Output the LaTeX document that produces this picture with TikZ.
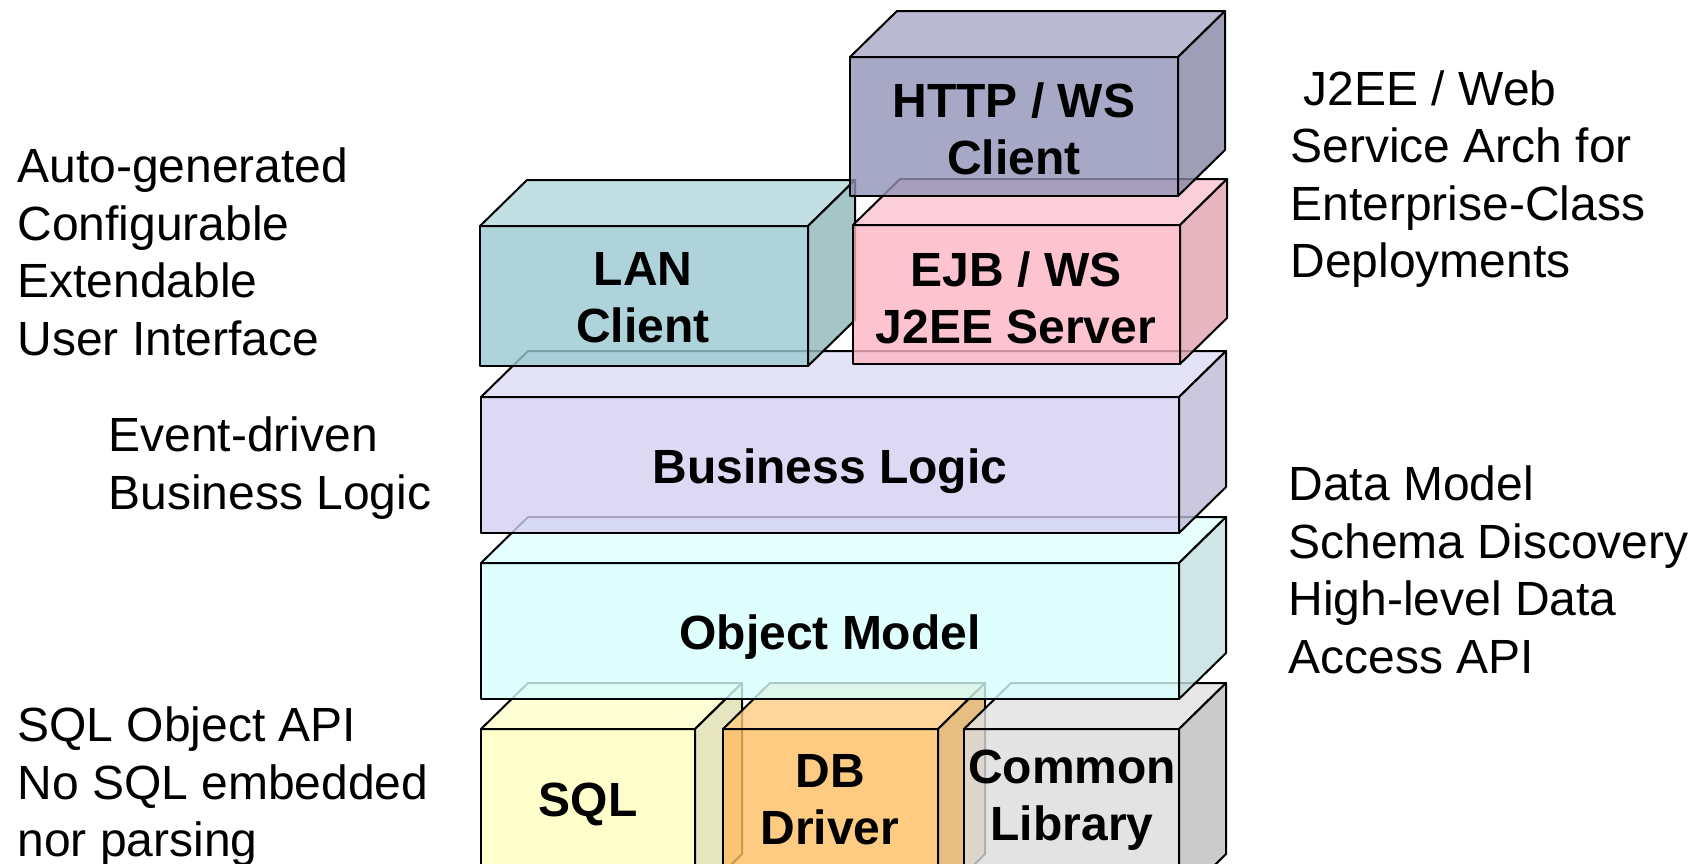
\documentclass[tikz,border=0pt]{standalone}
\usepackage{fontspec}
\setmainfont{Liberation Sans}
\definecolor{httpF}{RGB}{146,146,184}
\definecolor{httpT}{RGB}{168,168,199}
\definecolor{httpS}{RGB}{134,134,164}
\definecolor{lanF}{RGB}{154,201,209}
\definecolor{lanT}{RGB}{179,216,220}
\definecolor{lanS}{RGB}{144,183,186}
\definecolor{ejbF}{RGB}{253,181,196}
\definecolor{ejbT}{RGB}{251,196,209}
\definecolor{ejbS}{RGB}{224,163,175}
\definecolor{busF}{RGB}{213,208,243}
\definecolor{busT}{RGB}{221,219,244}
\definecolor{busS}{RGB}{191,186,214}
\definecolor{objF}{RGB}{216,255,255}
\definecolor{objT}{RGB}{224,255,255}
\definecolor{objS}{RGB}{195,224,224}
\definecolor{sqlF}{RGB}{255,255,191}
\definecolor{sqlT}{RGB}{255,255,204}
\definecolor{sqlS}{RGB}{223,223,176}
\definecolor{dbF}{RGB}{254,190,99}
\definecolor{dbT}{RGB}{254,203,129}
\definecolor{dbS}{RGB}{224,174,99}
\definecolor{comF}{RGB}{220,220,220}
\definecolor{comT}{RGB}{226,226,226}
\definecolor{comS}{RGB}{191,191,191}
\newcommand{\mycube}[7]{%
  \filldraw[face,fill=#5] (#1,#2) rectangle (#3,#4);
  \filldraw[face,fill=#6] (#1,#2) -- (#1+47,#2-46) -- (#3+47,#2-46) -- (#3,#2) -- cycle;
  \filldraw[face,fill=#7] (#3,#2) -- (#3+47,#2-46) -- (#3+47,#4-46) -- (#3,#4) -- cycle;
}
\begin{document}
\begin{tikzpicture}[x=0.5pt,y=-0.5pt,
  face/.style={draw=black,line width=1pt,line join=round,fill opacity=0.8,draw opacity=1},
  side/.style={inner sep=0pt,anchor=west,align=left,font=\fontsize{24}{28.75}\selectfont},
  lbl/.style={inner sep=0pt,align=center,font=\fontsize{24}{28.5}\selectfont\bfseries}]
\useasboundingbox (0,0) rectangle (1702,863);
\clip (0,0) rectangle (1702,863);
\fill[white] (0,0) rectangle (1702,863);
% bottom row
\mycube{481}{729}{695}{900}{sqlF}{sqlT}{sqlS}
\mycube{723}{729}{938}{900}{dbF}{dbT}{dbS}
\mycube{964}{729}{1179}{900}{comF}{comT}{comS}
% object model
\mycube{481}{563}{1179}{699}{objF}{objT}{objS}
% business logic
\mycube{481}{397}{1179}{533}{busF}{busT}{busS}
% LAN and EJB
\mycube{480}{226}{808}{366}{lanF}{lanT}{lanS}
\mycube{853}{225}{1180}{364}{ejbF}{ejbT}{ejbS}
% HTTP
\mycube{850}{57}{1178}{196}{httpF}{httpT}{httpS}
% box labels
\node[lbl] (http) at (1014,129) {HTTP / WS\\Client};
\node[lbl] (lan) at (643,298) {LAN\\Client};
\node[lbl] (ejb) at (1016,298) {EJB / WS\\J2EE Server};
\node[lbl] (bus) at (830,471) {Business Logic};
\node[lbl] (obj) at (830,637) {Object Model};
\node[lbl] (sql) at (588,804) {SQL};
\node[lbl] (db) at (830,800) {DB\\Driver};
\node[lbl] (com) at (1072,800) {Common\\Library};
% side texts
\node[side] (ui) at (17,252) {Auto-generated\\Configurable\\Extendable\\User Interface};
\node[side] (ev) at (108,468) {Event-driven\\Business Logic};
\node[side] (sqlapi) at (17,787) {SQL Object API\\No SQL embedded\\nor parsing};
\node[side] (j2ee) at (1290,179) {\hspace*{0.28em}J2EE / Web\\Service Arch for\\Enterprise-Class\\Deployments};
\node[side] (data) at (1288,570) {Data Model\\Schema Discovery\\High-level Data\\Access API};
\end{tikzpicture}
\end{document}
